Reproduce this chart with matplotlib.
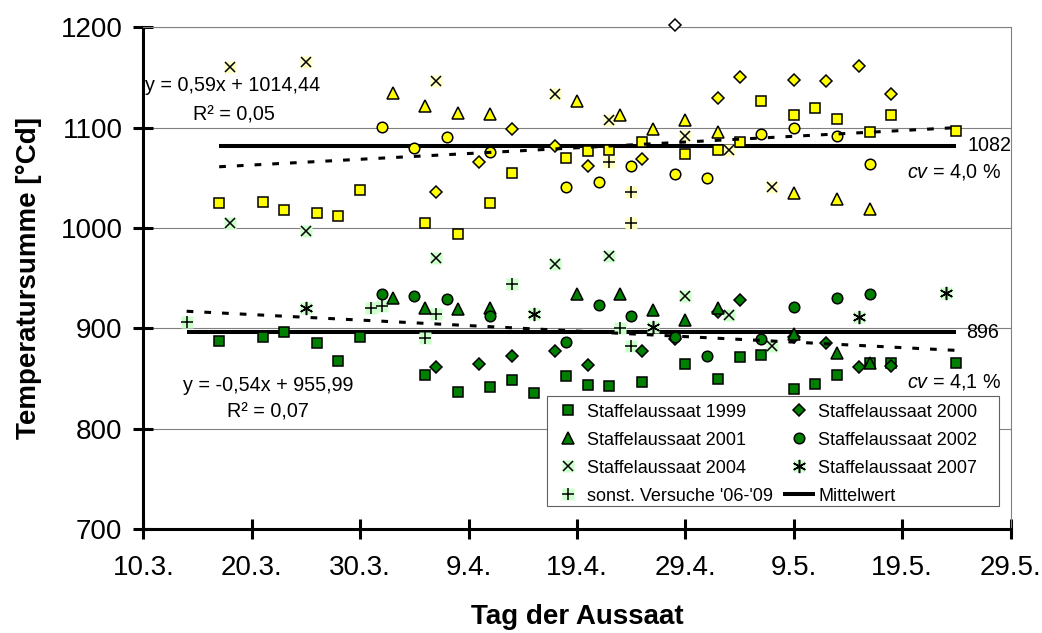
import numpy as np
import matplotlib.pyplot as plt
from matplotlib.patches import Rectangle

plt.rcParams['font.family'] = ['Liberation Sans', 'DejaVu Sans']
plt.rcParams['mathtext.fontset'] = 'custom'
plt.rcParams['mathtext.rm'] = 'Liberation Sans'
plt.rcParams['mathtext.it'] = 'Liberation Sans:italic'

# x = day of year (10.3. = 69)
tick_days = [69, 79, 89, 99, 109, 119, 129, 139, 149]
tick_labels = ['10.3.', '20.3.', '30.3.', '9.4.', '19.4.', '29.4.', '9.5.', '19.5.', '29.5.']

# upper group (yellow)
yel_1999_x = [76, 80, 82, 85, 87, 89, 95, 98, 101, 103, 108, 110, 112, 115, 119, 122, 124, 126, 129, 131, 133, 136, 138, 144]
yel_1999_y = [1025, 1026, 1018, 1015, 1012, 1038, 1005, 994, 1025, 1055, 1070, 1077, 1078, 1086, 1074, 1078, 1086, 1127, 1113, 1120, 1109, 1096, 1113, 1097]
yel_2000_x = [96, 100, 103, 107, 110, 115, 122, 124, 129, 132, 135, 138]
yel_2000_y = [1036, 1066, 1099, 1082, 1062, 1069, 1130, 1150, 1147, 1146, 1161, 1134]
yel_2000_out_x = [118]
yel_2000_out_y = [1202]
yel_2001_x = [92, 95, 98, 101, 109, 113, 116, 119, 122, 129, 133, 136]
yel_2001_y = [1135, 1122, 1115, 1114, 1127, 1113, 1099, 1108, 1096, 1035, 1029, 1019]
yel_2002_x = [91, 94, 97, 101, 108, 111, 114, 118, 121, 126, 129, 133, 136]
yel_2002_y = [1101, 1080, 1091, 1076, 1041, 1046, 1062, 1054, 1050, 1094, 1100, 1092, 1064]
yel_2004_x = [77, 84, 96, 107, 112, 119, 123, 127]
yel_2004_y = [1160, 1165, 1146, 1134, 1108, 1092, 1078, 1041]
yel_sonst_x = [112, 114, 114]
yel_sonst_y = [1066, 1036, 1005]
yel_mean = 1082
yel_trend_x = [76, 144]
yel_trend_y = [1061, 1100]

# lower group (green)
grn_1999_x = [76, 80, 82, 85, 87, 89, 95, 98, 101, 103, 105, 108, 110, 112, 115, 119, 122, 124, 126, 129, 131, 133, 136, 138, 144]
grn_1999_y = [887, 891, 896, 885, 867, 891, 853, 837, 842, 848, 836, 852, 844, 843, 846, 864, 849, 871, 873, 840, 845, 853, 865, 865, 865]
grn_2000_x = [96, 100, 103, 107, 110, 115, 118, 122, 124, 129, 132, 135, 138]
grn_2000_y = [861, 864, 872, 877, 863, 877, 889, 916, 928, 891, 885, 861, 862]
grn_2001_x = [92, 95, 98, 101, 109, 113, 116, 119, 122, 129, 133, 136]
grn_2001_y = [930, 920, 919, 920, 934, 934, 918, 908, 920, 894, 875, 865]
grn_2002_x = [91, 94, 97, 101, 108, 111, 114, 118, 121, 126, 129, 133, 136]
grn_2002_y = [934, 932, 929, 912, 886, 923, 912, 891, 872, 889, 921, 930, 934]
grn_2004_x = [77, 84, 96, 107, 112, 119, 123, 127]
grn_2004_y = [1005, 997, 970, 964, 972, 932, 913, 882]
grn_2007_x = [84, 105, 116, 135, 143]
grn_2007_y = [920, 914, 901, 911, 935]
grn_sonst_x = [73, 90, 91, 95, 96, 103, 113, 114]
grn_sonst_y = [906, 920, 922, 890, 914, 944, 900, 882]
grn_mean = 896
grn_trend_x = [73, 144]
grn_trend_y = [917, 878]

GREEN = '#008000'
YELLOW = '#FFFF00'
LIGHT_GREEN = '#CCFFCC'
LIGHT_YELLOW = '#FFFFC4'


def draw_series(ax, xs, ys, marker, size, face, bg=None):
    """draws one series, optional light square behind line-type markers"""
    parts = []
    if bg is not None:
        b, = ax.plot(xs, ys, ls='none', marker='s', ms=8.5, mfc=bg, mec='none', zorder=3)
        parts.append(b)
    m, = ax.plot(xs, ys, ls='none', marker=marker, ms=size, mfc=face, mec='black',
                 mew=1.1, zorder=3.5)
    parts.append(m)
    if len(parts) == 1:
        return parts[0]
    return tuple(parts)


def draw_group(ax, data, face, bg):
    handles = []
    handles.append(draw_series(ax, data[0][0], data[0][1], 's', 7.6, face))
    handles.append(draw_series(ax, data[1][0], data[1][1], 'D', 6.2, face))
    handles.append(draw_series(ax, data[2][0], data[2][1], '^', 8.2, face))
    handles.append(draw_series(ax, data[3][0], data[3][1], 'o', 7.6, face))
    handles.append(draw_series(ax, data[4][0], data[4][1], 'x', 7.4, face, bg))
    handles.append(draw_series(ax, data[5][0], data[5][1], (6, 2, 0), 9.5, face, bg))
    handles.append(draw_series(ax, data[6][0], data[6][1], '+', 9, face, bg))
    return handles


def main():
    fig = plt.figure(figsize=(10.42, 6.33), dpi=100)
    ax = fig.add_axes([0.1375, 0.1643, 0.8324, 0.7926])

    yel_data = [(yel_1999_x, yel_1999_y), (yel_2000_x, yel_2000_y), (yel_2001_x, yel_2001_y),
                (yel_2002_x, yel_2002_y), (yel_2004_x, yel_2004_y), ([], []),
                (yel_sonst_x, yel_sonst_y)]
    grn_data = [(grn_1999_x, grn_1999_y), (grn_2000_x, grn_2000_y), (grn_2001_x, grn_2001_y),
                (grn_2002_x, grn_2002_y), (grn_2004_x, grn_2004_y), (grn_2007_x, grn_2007_y),
                (grn_sonst_x, grn_sonst_y)]

    draw_group(ax, yel_data, YELLOW, LIGHT_YELLOW)
    h = draw_group(ax, grn_data, GREEN, LIGHT_GREEN)
    ax.plot(yel_2000_out_x, yel_2000_out_y, ls='none', marker='D', ms=6.2, mfc='white',
            mec='black', mew=1.1, zorder=3.5, clip_on=False)

    # mean lines over the range of each group
    yel_all = np.concatenate([d[0] for d in yel_data if len(d[0])])
    grn_all = np.concatenate([d[0] for d in grn_data if len(d[0])])
    mean_line, = ax.plot([yel_all.min(), yel_all.max()], [yel_mean, yel_mean],
                         color='black', lw=2.9, zorder=2.5, solid_capstyle='butt')
    ax.plot([grn_all.min(), grn_all.max()], [grn_mean, grn_mean],
            color='black', lw=2.9, zorder=2.5, solid_capstyle='butt')

    # trend lines
    ax.plot(yel_trend_x, yel_trend_y, color='black', lw=2.2, dashes=(2.2, 3.6), zorder=4)
    ax.plot(grn_trend_x, grn_trend_y, color='black', lw=2.2, dashes=(2.2, 3.6), zorder=4)

    # labels in the plot
    ax.text(69.16, 1142, 'y = 0,59x + 1014,44', fontsize=14.2, va='center', zorder=7)
    ax.text(73.56, 1113, 'R² = 0,05', fontsize=14.2, va='center', zorder=7)
    ax.text(72.69, 843.5, 'y = -0,54x + 955,99', fontsize=14.2, va='center', zorder=7)
    ax.text(76.75, 817, 'R² = 0,07', fontsize=14.2, va='center', zorder=7)
    ax.text(145.0, yel_mean, str(yel_mean), fontsize=14.2, va='center', zorder=7)
    ax.text(139.4, 1056, r'$\mathit{cv}$ = 4,0 %', fontsize=14.2, va='center', zorder=7)
    ax.text(144.9, grn_mean, str(grn_mean), fontsize=14.2, va='center', zorder=7)
    ax.text(139.4, 846, r'$\mathit{cv}$ = 4,1 %', fontsize=14.2, va='center', zorder=7)

    ax.set_xlim(69, 149)
    ax.set_ylim(700, 1200)
    ax.set_xticks(tick_days)
    ax.set_xticklabels(tick_labels)
    ax.set_yticks([700, 800, 900, 1000, 1100, 1200])
    ax.yaxis.grid(True, color='#808080', lw=0.8)
    ax.set_axisbelow(True)
    ax.tick_params(direction='inout', length=14, width=2.2, labelsize=20)
    ax.tick_params(axis='y', pad=8)
    ax.tick_params(axis='x', pad=12)
    for side in ['left', 'bottom']:
        ax.spines[side].set_linewidth(2.2)
    for side in ['top', 'right']:
        ax.spines[side].set_linewidth(0.8)
        ax.spines[side].set_color('#808080')

    ax.set_xlabel('Tag der Aussaat', fontsize=20, fontweight='bold')
    ax.set_ylabel('Temperatursumme [°Cd]', fontsize=20, fontweight='bold')
    ax.xaxis.set_label_coords(0.5, -0.15)
    ax.yaxis.set_label_coords(-0.117, 0.5)

    # legend, frame drawn as its own box
    ax.add_patch(Rectangle((0.4651, 0.0458), 0.5214, 0.2199, transform=ax.transAxes,
                           facecolor='white', edgecolor='#606060', lw=0.8, zorder=5))
    handles = [h[0], h[2], h[4], h[6], h[1], h[3], h[5], mean_line]
    labels = ['Staffelaussaat 1999', 'Staffelaussaat 2001', 'Staffelaussaat 2004',
              "sonst. Versuche '06-'09", 'Staffelaussaat 2000', 'Staffelaussaat 2002',
              'Staffelaussaat 2007', 'Mittelwert']
    leg = ax.legend(handles, labels, ncol=2, loc='upper left', bbox_to_anchor=(0.4712, 0.2497),
                    borderaxespad=0, borderpad=0, frameon=False, fontsize=13,
                    handlelength=1.78, handletextpad=0.17, columnspacing=0.55, labelspacing=0.61)
    leg.set_zorder(6)

    fig.savefig('out.png', dpi=100)


if __name__ == "__main__": main()
